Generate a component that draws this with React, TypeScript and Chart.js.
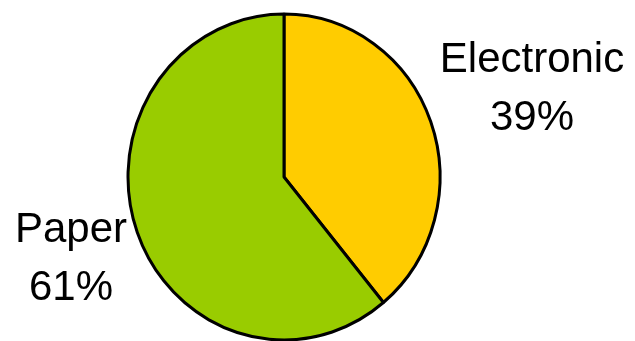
import React, { useEffect, useRef } from "react";
import { Chart, registerables } from "chart.js";

Chart.register(...registerables);

const categories = ["Electronic", "Paper"];
const shares = [39, 61];
const colors = ["#FFCC00", "#99CC00"];

// label block centers (layout only)
const labelAnchors = [
  { x: 532, y1: 72, y2: 130 },
  { x: 71, y1: 242, y2: 300 },
];

const ellipsePlugin = {
  id: "ellipse",
  beforeDatasetsDraw(chart: any) {
    const meta = chart.getDatasetMeta(0);
    const arc = meta.data[0];
    const ctx = chart.ctx;
    ctx.save();
    ctx.translate(arc.x, arc.y);
    ctx.scale(1, 164 / 157);
    ctx.translate(-arc.x, -arc.y);
  },
  afterDatasetsDraw(chart: any) {
    chart.ctx.restore();
  },
};

const labelPlugin = {
  id: "outLabels",
  afterDraw(chart: any) {
    const ctx = chart.ctx;
    ctx.save();
    ctx.fillStyle = "#000000";
    ctx.font = '42px "Liberation Sans", Arial, sans-serif';
    ctx.textAlign = "center";
    ctx.textBaseline = "alphabetic";
    categories.forEach((c, i) => {
      const a = labelAnchors[i];
      ctx.fillText(c, a.x, a.y1);
      ctx.fillText(shares[i] + "%", a.x, a.y2);
    });
    ctx.restore();
  },
};

export default function App() {
  const ref = useRef<HTMLCanvasElement>(null);
  useEffect(() => {
    if (!ref.current) return;
    const chart = new Chart(ref.current, {
      type: "pie",
      data: {
        labels: categories,
        datasets: [
          {
            data: shares,
            backgroundColor: colors,
            borderColor: "#000000",
            borderWidth: 3,
          },
        ],
      },
      options: {
        responsive: false,
        animation: false,
        radius: 156,
        layout: { padding: { left: 114, right: 181, top: 13, bottom: 0 } },
        plugins: {
          legend: { display: false },
          tooltip: { enabled: false },
        },
      } as any,
      plugins: [ellipsePlugin, labelPlugin],
    });
    return () => chart.destroy();
  }, []);
  return (
    <div style={{ position: "fixed", left: 0, top: 0, width: 635, height: 341, background: "#fff" }}>
      <canvas ref={ref} width={635} height={341} />
    </div>
  );
}
